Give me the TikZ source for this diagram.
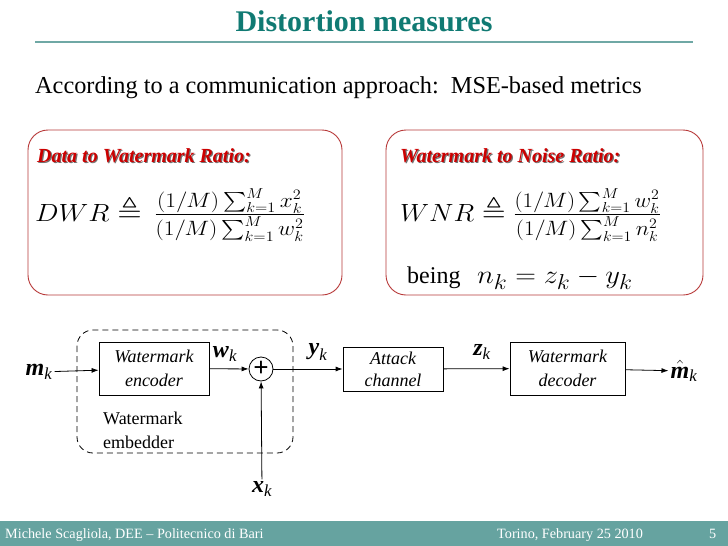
\documentclass[tikz,border=0pt]{standalone}
\usepackage[no-math]{fontspec}
\setmainfont{Liberation Serif}
\usepackage{amsmath,amssymb}
\usepackage{xcolor}
\usepackage{tikz}
\usetikzlibrary{arrows.meta,positioning}

\definecolor{slideteal}{HTML}{107A73}
\definecolor{ruleteal}{HTML}{6FA8A5}
\definecolor{footteal}{HTML}{66A3A0}
\definecolor{boxred}{HTML}{B83A3A}
\definecolor{headred}{HTML}{CC0000}

\newcommand{\sigbf}[1]{\textbf{\textit{#1}}}
\newcommand{\sigk}[1]{$\sigbf{#1}_{\textit{k}}$}

\begin{document}
\begin{tikzpicture}[x=1pt,y=-1pt,>=Latex,
  blk/.style={draw,line width=0.8pt,align=center,inner sep=0pt,
    font=\itshape\fontsize{18}{24}\selectfont},
  sig/.style={font=\fontsize{24}{26}\selectfont,inner sep=2pt},
  flow/.style={->,line width=0.8pt,>={Latex[length=7pt,width=5pt]}},
  redbox/.style={draw=boxred,line width=0.9pt,rounded corners=20pt},
  redhead/.style={anchor=base west,inner sep=0pt,
    font=\bfseries\itshape\fontsize{20}{24}\selectfont},
  formula/.style={anchor=base west,inner sep=0pt,font=\fontsize{28}{32}\selectfont},
  foot/.style={text=white,anchor=base west,inner sep=0pt,
    font=\fontsize{14.2}{16}\selectfont}]
  \useasboundingbox (0,0) rectangle (728,546);
  \fill[white] (0,0) rectangle (728,546);

  % title
  \node[text=slideteal,font=\bfseries\fontsize{30}{34}\selectfont] (title) at (364,21) {Distortion measures};
  \draw[ruleteal,line width=1.2pt] (35,42) -- (693,42);
  \node[anchor=base west,inner sep=0pt,font=\fontsize{24.3}{28}\selectfont] (intro) at (35,93)
    {According to a communication approach:\ \ MSE-based metrics};

  % the two measures
  \draw[redbox] (28,130) rectangle (342,295);
  \draw[redbox] (386,130) rectangle (703,295);
  \node[redhead,text=black!55] at (38.2,163.2) {Data to Watermark Ratio:};
  \node[redhead,text=headred] (dwrhead) at (37,162) {Data to Watermark Ratio:};
  \node[redhead,text=black!55] at (401.2,163.2) {Watermark to Noise Ratio:};
  \node[redhead,text=headred] (wnrhead) at (400,162) {Watermark to Noise Ratio:};
  \node[formula] (dwr) at (35,221)
    {\scalebox{1.125}[1]{$DWR \triangleq \,\frac{(1/M)\sum_{k=1}^{M} x_k^2}{(1/M)\sum_{k=1}^{M} w_k^2}$}};
  \node[formula] (wnr) at (400,221)
    {\scalebox{1.10}[1]{$WNR \triangleq \frac{(1/M)\sum_{k=1}^{M} w_k^2}{(1/M)\sum_{k=1}^{M} n_k^2}$}};
  \node[anchor=base west,inner sep=0pt,font=\fontsize{24}{28}\selectfont] (being) at (407,283) {being};
  \node[formula] (noise) at (477,283)
    {\scalebox{1.15}[1.04]{$n_k = z_k - y_k$}};

  % block diagram
  \draw[line width=0.8pt,dash pattern=on 6pt off 4pt,rounded corners=16pt] (77,330) rectangle (293,453);
  \node[blk,minimum width=110pt,minimum height=53pt] (enc) at (154,368.5) {Watermark\\encoder};
  \node[draw,circle,line width=0.8pt,minimum size=24pt,inner sep=0pt,
    font=\bfseries\fontsize{27}{27}\selectfont] (plus) at (261,369) {\raisebox{-1pt}{+}};
  \node[blk,minimum width=100pt,minimum height=44pt,font=\itshape\fontsize{18}{22}\selectfont] (att) at (393,369) {Attack\\channel};
  \node[blk,minimum width=115pt,minimum height=53pt] (dec) at (567.5,368.5) {Watermark\\decoder};
  \node[anchor=west,align=left,inner sep=0pt,font=\fontsize{18}{24}\selectfont] (emb) at (103,430) {Watermark\\embedder};

  \node[sig] (mk) at (39,372) {\sigk{m}};
  \node[sig] (wk) at (225,354) {\sigk{w}};
  \node[sig] (yk) at (318,352) {\sigk{y}};
  \node[sig] (zk) at (482,352) {\sigk{z}};
  \node[sig] (xk) at (262,489) {\sigk{x}};
  \node[sig] (mhat) at (684,371) {$\hat{\sigbf{m}}_{\textit{k}}$};

  \draw[flow] (mk) -- (enc);
  \draw[flow] (enc) -- (plus);
  \draw[flow] (plus) -- (att);
  \draw[flow] (att) -- (dec);
  \draw[flow] (dec) -- (mhat);
  \draw[flow] (xk) -- (plus);

  % footer
  \fill[footteal] (0,521) rectangle (728,546);
  \node[foot] (author) at (5,538) {Michele Scagliola, DEE -- Politecnico di Bari};
  \node[foot] (place) at (497,538) {Torino, February 25 2010};
  \node[foot] (page) at (709,538) {5};
\end{tikzpicture}
\end{document}
